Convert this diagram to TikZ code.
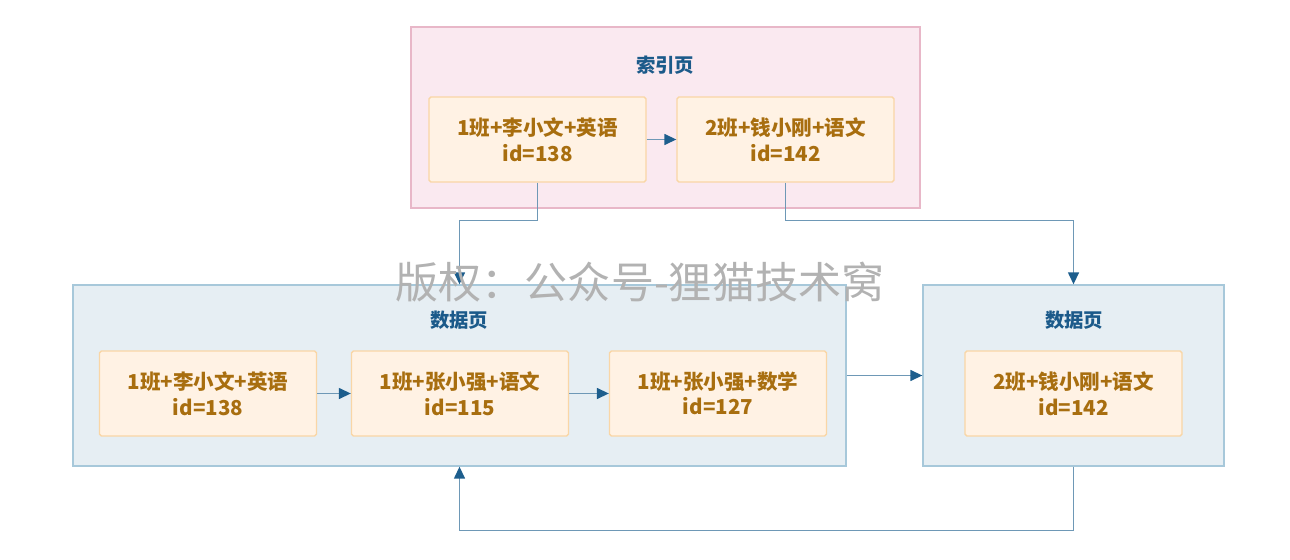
\documentclass[tikz,border=0pt]{standalone}
\usepackage{fontspec}
\setmainfont{Noto Sans CJK SC}
\usetikzlibrary{arrows.meta,positioning}
\definecolor{pinkfill}{HTML}{FAE9F0}
\definecolor{pinkline}{HTML}{E8B7C8}
\definecolor{pagefill}{HTML}{E6EEF3}
\definecolor{pageline}{HTML}{A7C8DA}
\definecolor{rowfill}{HTML}{FFF2E4}
\definecolor{rowline}{HTML}{F9D6A6}
\definecolor{rowtext}{HTML}{A86E0F}
\definecolor{titleblue}{HTML}{1B5A8A}
\definecolor{linkline}{HTML}{6E98B6}
\definecolor{linktip}{HTML}{1D5E8D}
\tikzset{
  indexpage/.style={
    draw=pinkline,
    fill=pinkfill,
    line width=0.8pt,
    minimum width=10.18cm,
    minimum height=3.62cm
  },
  datapage/.style={
    draw=pageline,
    fill=pagefill,
    line width=0.8pt,
    minimum height=3.62cm
  },
  pagetitle/.style={
    text=titleblue,
    font=\bfseries\fontsize{11}{13}\selectfont
  },
  row/.style={
    draw=rowline,
    fill=rowfill,
    line width=0.8pt,
    rounded corners=1pt,
    minimum width=4.34cm,
    minimum height=1.7cm,
    align=center,
    text=rowtext,
    font=\bfseries\fontsize{11.7}{14.5}\selectfont
  },
  flow/.style={
    -{Triangle[length=2.4mm,width=2.2mm,color=linktip]},
    draw=linkline,
    line width=0.8pt
  },
  watermark/.style={
    text=black!30,
    font=\fontsize{24.5}{28}\selectfont
  }
}

\begin{document}
\begin{tikzpicture}[x=0.02cm,y=-0.02cm]
  \useasboundingbox (0,0) rectangle (1290,560);

  % pages
  \node[indexpage] (index) at (665.5,117.5) {};
  \node[datapage, minimum width=15.46cm] (page1) at (459.5,375.5) {};
  \node[datapage, minimum width=6.02cm] (page2) at (1073.5,375.5) {};

  \node[pagetitle] (indextitle) at (665,65) {索引页};
  \node[pagetitle] (page1title) at (459,320) {数据页};
  \node[pagetitle] (page2title) at (1074,320) {数据页};

  % index rows
  \node[row] (idxA) at (537.5,139.5) {1班+李小文+英语\\id=138};
  \node[row] (idxB) at (785.5,139.5) {2班+钱小刚+语文\\id=142};

  % data rows
  \node[row] (rowA) at (208,393.5) {1班+李小文+英语\\id=138};
  \node[row] (rowB) at (460,393.5) {1班+张小强+语文\\id=115};
  \node[row] (rowC) at (718,393.5) {1班+张小强+数学\\id=127};
  \node[row] (rowD) at (1073.5,393.5) {2班+钱小刚+语文\\id=142};

  \draw[flow] (idxA.east) -- (idxB.west);
  \draw[flow] (rowA.east) -- (rowB.west);
  \draw[flow] (rowB.east) -- (rowC.west);
  \draw[flow] (page1.east) -- (page2.west);
  \draw[flow] (idxA.south) -- ++(0,38) -| (page1.north);
  \draw[flow] (idxB.south) -- ++(0,38) -| (page2.north);
  \draw[flow] (page2.south) -- ++(0,64) -| (page1.south);

  \node[watermark] (mark) at (640,282) {版权：公众号-狸猫技术窝};
\end{tikzpicture}
\end{document}
